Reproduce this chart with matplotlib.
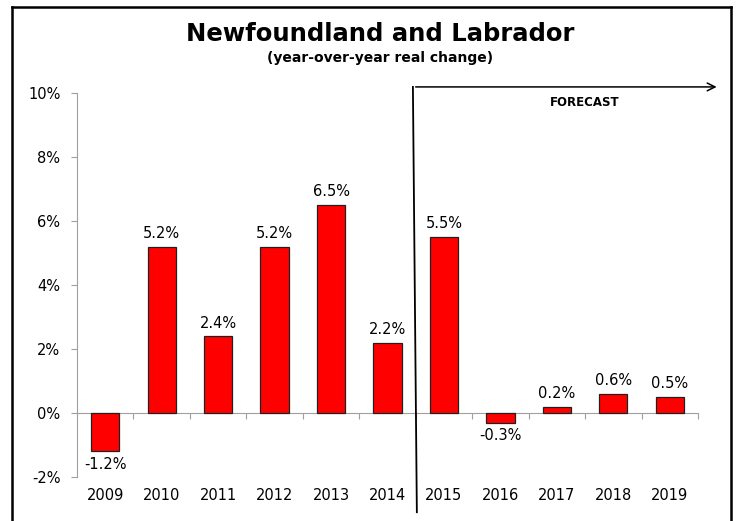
import matplotlib
matplotlib.use("Agg")
import matplotlib.pyplot as plt
from matplotlib.lines import Line2D

years = ["2009", "2010", "2011", "2012", "2013", "2014",
         "2015", "2016", "2017", "2018", "2019"]
growth = [-1.2, 5.2, 2.4, 5.2, 6.5, 2.2, 5.5, -0.3, 0.2, 0.6, 0.5]
y_ticks = [-2, 0, 2, 4, 6, 8, 10]
y_tick_labels = ["-2%", "0%", "2%", "4%", "6%", "8%", "10%"]
forecast_start = 6  # index of first forecast year

W, H = 738, 521
fig = plt.figure(figsize=(W / 100, H / 100), dpi=100)
ax = fig.add_axes([77 / W, 1 - 477 / H, (698 - 77) / W, (477 - 93) / H])

x = list(range(len(years)))
ax.bar(x, growth, width=0.5, color="#FF0000", edgecolor="#202020", linewidth=0.9, zorder=3)

ax.set_xlim(-0.5, len(years) - 0.5)
ax.set_ylim(-2, 10)

gray = "#A0A0A0"
fs = 10.5
for s in ["top", "right"]:
    ax.spines[s].set_visible(False)
ax.spines["left"].set_color(gray)
ax.spines["bottom"].set_color(gray)
ax.spines["bottom"].set_position(("data", 0))

ax.set_yticks(y_ticks)
ax.set_yticklabels(y_tick_labels, fontsize=fs, family="DejaVu Sans")
ax.tick_params(axis="y", direction="out", length=4, color=gray, pad=8)

ax.set_xticks([i + 0.5 for i in x])
ax.set_xticklabels([])
ax.tick_params(axis="x", direction="out", length=4, color=gray)

# year labels sit below the axes area
for i, yr in enumerate(years):
    ax.text(i, -2 - 19 / 32, yr, ha="center", va="center",
            fontsize=fs, family="DejaVu Sans")

for i, v in enumerate(growth):
    if v >= 0:
        ax.annotate(f"{v:.1f}%", (i, v), xytext=(0, 4), textcoords="offset points",
                    ha="center", va="bottom", fontsize=fs, family="DejaVu Sans")
    else:
        ax.annotate(f"{v:.1f}%", (i, v), xytext=(0, -4), textcoords="offset points",
                    ha="center", va="top", fontsize=fs, family="DejaVu Sans")

# forecast divider and arrow
fx = forecast_start - 0.5
ax.plot([fx - 0.05, fx + 0.02], [10.19, -3.1], color="black", lw=1.3, clip_on=False, zorder=5)
ax.annotate("", xy=(10.88, 10.19), xytext=(fx - 0.05, 10.19),
            arrowprops=dict(arrowstyle="->", color="black", lw=1.1, mutation_scale=14),
            annotation_clip=False)
ax.text(8.5, 9.7, "FORECAST", ha="center", va="center", fontsize=8.5,
        fontweight="bold", family="DejaVu Sans")

# titles
fig.text(380 / W, 1 - 34 / H, "Newfoundland and Labrador", ha="center", va="center",
         fontsize=17.5, fontweight="bold", family="DejaVu Sans")
fig.text(380 / W, 1 - 58 / H, "(year-over-year real change)", ha="center", va="center",
         fontsize=10, fontweight="bold", family="DejaVu Sans")

# outer frame (open at the bottom edge)
lx, rx, ty = 12.5 / W, 731 / W, 1 - 6.5 / H
for xs, ys in [([lx, lx], [ty, -0.05]), ([lx, rx], [ty, ty]), ([rx, rx], [ty, -0.05])]:
    fig.add_artist(Line2D(xs, ys, transform=fig.transFigure, color="black", lw=1.8))

fig.savefig("out.png", dpi=100)
